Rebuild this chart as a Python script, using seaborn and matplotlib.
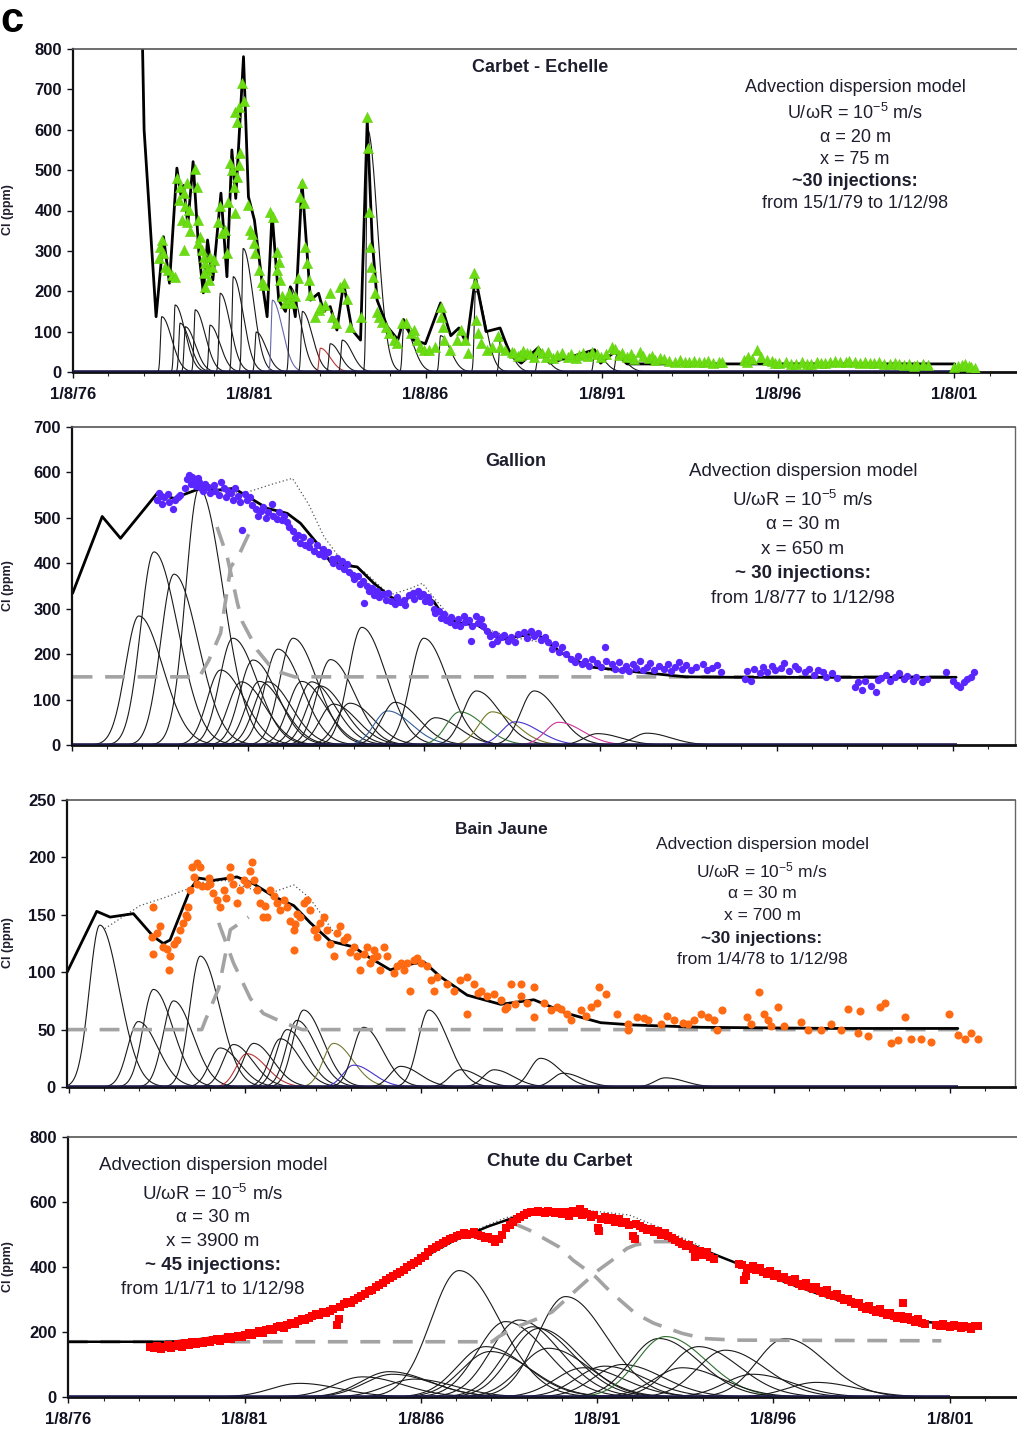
import numpy as np
import pandas as pd
import matplotlib
matplotlib.use("Agg")
import matplotlib.pyplot as plt
import seaborn as sns

sns.set_theme(style="white")
plt.rcParams["font.family"] = ["Liberation Sans", "DejaVu Sans"]
plt.rcParams["mathtext.default"] = "regular"

# ---------------------------------------------------------------- data
# dates are decimal years; 1/8/YY tick positions
tick_years = [1976.583, 1981.583, 1986.583, 1991.583, 1996.583, 2001.583]
tick_labels = ["1/8/76", "1/8/81", "1/8/86", "1/8/91", "1/8/96", "1/8/01"]
minor_years = [1976.583 + k for k in range(27)]

# ---- Carbet - Echelle
ce_model_t = [1978.55, 1978.60, 1978.94, 1979.15, 1979.32, 1979.53, 1979.64, 1979.72, 1979.84,
              1979.99, 1980.15, 1980.28, 1980.40, 1980.55, 1980.78, 1980.95, 1981.09, 1981.20,
              1981.42, 1981.56, 1981.73, 1981.94, 1982.09, 1982.23, 1982.42, 1982.61, 1982.75,
              1982.89, 1983.08, 1983.32, 1983.55, 1983.69, 1983.88, 1984.07, 1984.26, 1984.50,
              1984.74, 1984.93, 1985.07, 1985.21, 1985.50, 1985.80, 1985.96, 1986.24, 1986.58,
              1987.01, 1987.30, 1987.53, 1987.75, 1988.00, 1988.30, 1988.70, 1989.00, 1989.30,
              1989.78, 1990.10, 1991.38, 1991.55, 1991.95, 1992.30, 2001.60]
ce_model_c = [830, 600, 137, 335, 220, 505, 440, 462, 365,
              521, 300, 196, 327, 228, 443, 236, 550, 430,
              781, 434, 376, 228, 137, 393, 178, 150, 211,
              137, 471, 178, 195, 150, 162, 104, 220, 104,
              79, 624, 327, 178, 112, 80, 130, 79, 70,
              171, 90, 109, 70, 235, 100, 109, 40, 22,
              60, 22, 55, 22, 50, 20, 20]
ce_obs_t = [1979.10, 1979.05, 1979.15, 1979.01, 1979.20, 1979.29, 1979.39, 1979.48, 1979.53, 1979.62,
            1979.58, 1979.72, 1979.81, 1979.76, 1979.86, 1979.67, 1979.81, 1979.72, 1979.91, 1980.05,
            1980.10, 1980.14, 1980.19, 1980.14, 1980.24, 1980.29, 1980.33, 1980.38, 1980.29, 1980.47,
            1980.52, 1980.57, 1980.43, 1980.33, 1980.76, 1980.71, 1980.81, 1980.90, 1980.95, 1980.99,
            1981.09, 1981.14, 1981.23, 1981.18, 1981.04, 1981.23, 1981.18, 1981.28, 1981.37, 1981.42,
            1981.33, 1981.28, 1981.56, 1981.61, 1981.66, 1981.71, 1981.75, 1981.85, 1981.94, 1981.99,
            1982.18, 1982.27, 1982.37, 1982.42, 1982.37, 1982.46, 1982.51, 1982.61, 1982.70, 1982.80,
            1982.89, 1982.70, 1983.08, 1983.13, 1983.03, 1983.17, 1983.22, 1983.27, 1983.32, 1982.98,
            1983.46, 1983.55, 1983.60, 1983.74, 1983.88, 1983.93, 1984.03, 1984.17, 1984.26, 1984.36,
            1984.45, 1984.93, 1984.94, 1984.97, 1985.02, 1985.04, 1985.10, 1985.16, 1984.74, 1985.21,
            1985.26, 1985.35, 1985.45, 1985.54, 1985.68, 1985.78, 1985.92, 1986.02, 1986.16, 1986.25,
            1986.35, 1986.44, 1986.54, 1986.68, 1986.86, 1987.02, 1987.02, 1987.07, 1987.12, 1987.28,
            1987.49, 1987.59, 1987.69, 1987.80, 1987.96, 1987.99, 1988.01, 1988.06, 1988.16, 1988.32,
            1988.48, 1988.63, 1988.69, 1988.84, 1989.05, 1989.10, 1989.20, 1989.26, 1989.35, 1989.47,
            1989.55, 1989.65, 1989.78, 1989.90, 1989.99, 1990.05, 1990.20, 1990.31, 1990.45, 1990.62,
            1990.70, 1990.85, 1990.93, 1991.05, 1991.20, 1991.30, 1991.45, 1991.56, 1991.70, 1991.87,
            1991.95, 1992.08, 1992.15, 1992.29, 1992.40, 1992.50, 1992.66, 1992.75, 1992.92, 1993.00,
            1993.10, 1993.23, 1993.35, 1993.50, 1993.65, 1993.80, 1993.95, 1994.07, 1994.20, 1994.35,
            1994.48, 1994.60, 1994.75, 1994.90, 1995.00, 1995.63, 1995.70, 1995.74, 1995.85, 1996.00,
            1996.10, 1996.26, 1996.40, 1996.50, 1996.62, 1996.80, 1996.95, 1997.09, 1997.25, 1997.40,
            1997.51, 1997.70, 1997.80, 1997.93, 1998.05, 1998.20, 1998.35, 1998.50, 1998.60, 1998.77,
            1998.90, 1999.05, 1999.18, 1999.30, 1999.45, 1999.60, 1999.75, 1999.90, 2000.02, 2000.15,
            2000.30, 2000.45, 2000.54, 2000.70, 2000.85, 2001.59, 2001.70, 2001.79, 2001.90, 2002.00,
            2002.05, 2002.16]
ce_obs_c = [327, 310, 294, 282, 261, 253, 240, 236, 480, 459,
            426, 443, 467, 410, 401, 376, 372, 302, 348, 504,
            459, 376, 335, 319, 302, 286, 269, 253, 244, 286,
            261, 277, 228, 211, 410, 372, 344, 352, 294, 422,
            500, 459, 484, 393, 517, 620, 645, 657, 715, 670,
            542, 513, 414, 352, 343, 319, 294, 253, 224, 216,
            397, 385, 298, 273, 253, 228, 187, 170, 182, 170,
            187, 195, 467, 418, 434, 310, 269, 228, 191, 232,
            137, 154, 162, 166, 195, 137, 121, 211, 220, 182,
            112, 632, 554, 397, 310, 261, 236, 195, 137, 149,
            137, 125, 112, 96, 79, 71, 121, 121, 96, 104,
            79, 63, 55, 55, 63, 162, 137, 112, 79, 55,
            79, 104, 79, 46, 244, 220, 129, 96, 71, 55,
            63, 88, 63, 55, 50, 48, 40, 42, 52, 46,
            44, 36, 55, 47, 38, 50, 34, 42, 46, 38,
            44, 35, 42, 48, 40, 50, 45, 38, 44, 63,
            56, 42, 46, 38, 44, 32, 50, 40, 34, 40,
            30, 34, 32, 28, 26, 30, 24, 26, 28, 24,
            26, 28, 22, 26, 24, 30, 26, 38, 32, 55,
            36, 30, 27, 22, 23, 26, 20, 21, 24, 20,
            20, 25, 22, 23, 26, 28, 26, 24, 28, 25,
            22, 26, 23, 22, 24, 21, 20, 22, 20, 18,
            21, 16, 18, 19, 17, 13, 14, 17, 19, 15,
            12, 9]
ce_comp_t0 = [1979.10, 1979.48, 1979.62, 1979.77, 1980.05, 1980.47, 1980.76, 1981.13, 1981.41,
              1981.78, 1982.24, 1982.75, 1983.09, 1983.60, 1983.88, 1984.22, 1984.94, 1985.96,
              1987.01, 1988.00, 1988.71, 1989.78, 1991.38, 1992.00]
ce_comp_h = [137, 166, 121, 112, 154, 116, 195, 236, 306,
             99, 178, 211, 150, 59, 70, 79, 600, 110,
             90, 200, 85, 45, 45, 40]
ce_comp_col = ["k", "k", "k", "k", "k", "k", "k", "k", "k",
               "k", "#6666aa", "k", "k", "#bb3333", "k", "k", "k", "k",
               "k", "k", "k", "k", "k", "k"]

# ---- Gallion
ga_model_t = [1976.60, 1977.44, 1977.96, 1979.00, 1979.47, 1980.23, 1980.70, 1981.18, 1981.74,
              1982.12, 1982.69, 1983.07, 1983.54, 1983.92, 1984.30, 1984.68, 1985.15, 1985.63,
              1985.91, 1986.48, 1986.86, 1987.14, 1987.62, 1988.09, 1988.75, 1989.75, 1990.50,
              1991.26, 1992.59, 1994.01, 1995.43, 1998.27, 2001.68]
ga_model_c = [334, 503, 455, 554, 543, 565, 561, 565, 539,
              521, 510, 488, 444, 403, 396, 392, 356, 326,
              315, 337, 315, 282, 268, 264, 232, 246, 202,
              172, 161, 150, 149, 149, 149]
ga_dot_t = [1980.70, 1981.50, 1982.30, 1982.84, 1983.30, 1983.74, 1984.20, 1984.90, 1985.60,
            1986.20, 1986.53, 1986.90, 1987.40, 1988.10, 1989.00, 1990.00, 1991.00, 1992.00, 1992.50]
ga_dot_c = [560, 555, 575, 587, 530, 458, 410, 380, 330,
            345, 356, 320, 275, 262, 238, 225, 178, 162, 158]
ga_bg_rise_t = [1976.60, 1980.20, 1980.47, 1980.80, 1981.09, 1981.32, 1981.61, 1981.75]
ga_bg_rise_c = [150, 150, 187, 246, 392, 418, 466, 473]
ga_bg_fall_t = [1980.70, 1980.99, 1981.28, 1981.42, 1981.84, 1982.30, 1982.90, 2001.70]
ga_bg_fall_c = [480, 414, 312, 271, 209, 165, 150, 150]
ga_obs_t = [1979.00, 1979.05, 1979.10, 1979.15, 1979.20, 1979.30, 1979.35, 1979.45, 1979.50, 1979.60,
            1979.65, 1979.80, 1979.85, 1979.90, 1979.95, 1980.00, 1980.05, 1980.10, 1980.15, 1980.20,
            1980.25, 1980.30, 1980.35, 1980.45, 1980.50, 1980.60, 1980.65, 1980.75, 1980.80, 1980.90,
            1980.95, 1981.00, 1981.10, 1981.15, 1981.20, 1981.30, 1981.35, 1981.42, 1981.50, 1981.55,
            1981.65, 1981.70, 1981.80, 1981.85, 1981.95, 1982.00, 1982.10, 1982.15, 1982.25, 1982.30,
            1982.40, 1982.45, 1982.55, 1982.60, 1982.70, 1982.75, 1982.85, 1982.90, 1983.00, 1983.05,
            1983.15, 1983.20, 1983.30, 1983.35, 1983.45, 1983.55, 1983.60, 1983.70, 1983.75, 1983.85,
            1983.95, 1984.00, 1984.10, 1984.15, 1984.25, 1984.30, 1984.40, 1984.45, 1984.55, 1984.60,
            1984.70, 1984.75, 1984.85, 1984.87, 1984.95, 1985.00, 1985.10, 1985.15, 1985.25, 1985.30,
            1985.40, 1985.50, 1985.55, 1985.65, 1985.75, 1985.80, 1985.90, 1986.00, 1986.05, 1986.15,
            1986.25, 1986.30, 1986.40, 1986.45, 1986.55, 1986.60, 1986.70, 1986.75, 1986.85, 1986.90,
            1987.00, 1987.05, 1987.15, 1987.20, 1987.30, 1987.35, 1987.45, 1987.55, 1987.60, 1987.70,
            1987.75, 1987.90, 1987.85, 1987.95, 1988.05, 1988.10, 1988.20, 1988.25, 1988.35, 1988.45,
            1988.50, 1988.60, 1988.65, 1988.75, 1988.85, 1988.95, 1989.05, 1989.15, 1989.25, 1989.40,
            1989.50, 1989.60, 1989.70, 1989.80, 1989.90, 1990.00, 1990.10, 1990.20, 1990.30, 1990.40,
            1990.50, 1990.60, 1990.75, 1990.85, 1990.95, 1991.05, 1991.15, 1991.25, 1991.35, 1991.50,
            1991.60, 1991.70, 1991.75, 1991.90, 1992.00, 1992.10, 1992.20, 1992.30, 1992.40, 1992.50,
            1992.60, 1992.70, 1992.80, 1992.90, 1993.00, 1993.10, 1993.25, 1993.40, 1993.50, 1993.60,
            1993.70, 1993.80, 1993.90, 1994.00, 1994.15, 1994.30, 1994.50, 1994.60, 1994.75, 1994.90,
            1995.00, 1995.70, 1995.75, 1995.85, 1995.95, 1996.10, 1996.20, 1996.30, 1996.45, 1996.55,
            1996.70, 1996.80, 1996.95, 1997.10, 1997.20, 1997.40, 1997.50, 1997.65, 1997.75, 1997.90,
            1998.00, 1998.15, 1998.30, 1998.80, 1998.90, 1999.00, 1999.10, 1999.25, 1999.40, 1999.45,
            1999.55, 1999.70, 1999.80, 1999.95, 2000.05, 2000.20, 2000.30, 2000.45, 2000.55, 2000.70,
            2000.85, 2001.40, 2001.60, 2001.70, 2001.80, 2001.90, 2002.00, 2002.10, 2002.20]
ga_obs_c = [540, 555, 548, 530, 545, 552, 535, 520, 540, 545,
            550, 565, 585, 595, 575, 590, 580, 570, 588, 578,
            565, 560, 575, 568, 555, 572, 560, 550, 578, 565,
            545, 560, 555, 540, 565, 548, 535, 473, 552, 540,
            545, 528, 520, 505, 515, 525, 500, 512, 530, 505,
            498, 512, 495, 505, 490, 480, 470, 455, 462, 445,
            458, 440, 435, 448, 428, 440, 420, 432, 415, 425,
            410, 400, 412, 395, 405, 388, 398, 380, 375, 365,
            372, 355, 360, 313, 350, 340, 345, 330, 338, 325,
            332, 320, 335, 318, 310, 325, 315, 320, 308, 330,
            335, 322, 338, 328, 332, 318, 325, 315, 300, 290,
            296, 280, 288, 275, 270, 282, 265, 278, 262, 285,
            270, 228, 275, 262, 285, 268, 278, 262, 250, 240,
            222, 245, 230, 238, 242, 230, 238, 226, 244, 248,
            236, 252, 240, 246, 232, 238, 226, 212, 222, 205,
            215, 200, 190, 182, 195, 178, 186, 175, 190, 180,
            172, 216, 185, 178, 168, 182, 165, 175, 162, 178,
            170, 185, 165, 172, 180, 165, 175, 168, 178, 162,
            172, 182, 168, 176, 165, 172, 178, 165, 170, 176,
            160, 145, 162, 140, 168, 158, 172, 160, 175, 165,
            170, 180, 162, 175, 168, 160, 168, 155, 165, 160,
            150, 158, 148, 128, 138, 122, 140, 130, 117, 142,
            148, 155, 140, 150, 158, 145, 152, 140, 150, 138,
            145, 161, 140, 132, 128, 138, 145, 150, 160]
ga_comp_t0 = [1978.48, 1978.91, 1979.48, 1980.19, 1980.80, 1981.15, 1981.39, 1981.72, 1981.90,
              1982.13, 1982.43, 1982.86, 1983.10, 1983.38, 1983.62, 1983.92, 1984.00, 1984.47,
              1984.81, 1985.54, 1985.75, 1986.57, 1986.90, 1987.59, 1988.06, 1988.51, 1989.16,
              1989.70, 1990.40, 1991.50, 1992.90]
ga_comp_h = [284, 425, 376, 565, 165, 235, 139, 187, 140,
             139, 211, 235, 140, 139, 130, 188, 90, 92,
             259, 75, 94, 235, 60, 73, 119, 73, 51,
             119, 50, 25, 26]
ga_comp_col = ["k", "k", "k", "k", "k", "k", "k", "k", "k",
               "k", "k", "k", "k", "k", "k", "k", "k", "k",
               "k", "#335f99", "k", "k", "k", "#337733", "k", "#777722", "#4433cc",
               "k", "#cc3399", "k", "k"]

# ---- Bain Jaune
bj_model_t = [1976.53, 1977.37, 1977.75, 1978.41, 1978.98, 1979.26, 1979.45, 1980.02, 1980.26,
              1980.68, 1981.35, 1981.82, 1982.39, 1982.96, 1983.43, 1984.00, 1984.66, 1985.04,
              1985.70, 1986.08, 1986.65, 1987.12, 1987.88, 1988.83, 1989.77, 1990.72, 1991.67,
              1992.61, 1994.51, 1998.30, 2001.80]
bj_model_c = [100, 153, 148, 151, 131, 125, 128, 172, 182,
              180, 183, 177, 166, 158, 143, 127, 122, 114,
              102, 106, 109, 96, 80, 72, 76, 64, 56,
              54, 52, 51, 51]
bj_dot_t = [1977.60, 1978.00, 1978.60, 1979.30, 1979.90, 1980.30, 1981.00, 1981.80, 1982.40,
            1982.96, 1983.40, 1983.80, 1984.20]
bj_dot_c = [138, 146, 158, 165, 172, 178, 180, 172, 170,
            176, 165, 148, 130]
bj_bg_rise_t = [1976.53, 1980.35, 1980.45, 1980.83, 1981.16, 1981.68]
bj_bg_rise_c = [50, 50, 58, 86, 137, 148]
bj_bg_fall_t = [1980.83, 1981.25, 1981.73, 1982.10, 1982.67, 1983.20, 2001.80]
bj_bg_fall_c = [143, 108, 77, 64, 56, 50, 50]
bj_obs_t = [1978.98, 1978.93, 1979.07, 1979.17, 1978.98, 1979.26, 1979.41, 1979.45, 1979.55, 1979.64,
            1979.74, 1979.83, 1979.93, 1979.97, 1980.02, 1980.12, 1980.07, 1980.21, 1980.31, 1980.21,
            1980.35, 1980.49, 1980.59, 1980.68, 1980.78, 1980.87, 1980.97, 1981.16, 1981.16, 1981.25,
            1981.35, 1981.44, 1981.54, 1981.63, 1981.77, 1981.73, 1981.82, 1981.91, 1982.01, 1982.10,
            1982.20, 1982.29, 1982.39, 1982.48, 1982.58, 1982.67, 1982.77, 1982.86, 1982.96, 1982.96,
            1983.05, 1983.15, 1983.24, 1983.34, 1983.43, 1983.52, 1983.62, 1983.71, 1983.81, 1983.90,
            1984.00, 1984.09, 1984.19, 1984.28, 1984.38, 1984.47, 1984.66, 1984.76, 1984.85, 1984.94,
            1985.04, 1985.13, 1985.23, 1985.32, 1985.42, 1985.51, 1985.61, 1985.80, 1985.99, 1986.08,
            1986.18, 1986.27, 1986.37, 1986.56, 1986.74, 1986.84, 1986.93, 1987.03, 1987.50, 1987.69,
            1987.88, 1987.88, 1988.07, 1988.26, 1988.45, 1988.64, 1988.83, 1989.02, 1989.11, 1989.40,
            1989.40, 1989.77, 1989.58, 1989.77, 1990.06, 1990.25, 1990.44, 1990.72, 1990.82, 1991.10,
            1991.38, 1991.62, 1991.81, 1991.57, 1992.14, 1992.43, 1992.43, 1992.71, 1993.00, 1993.37,
            1993.75, 1994.13, 1994.32, 1994.51, 1994.70, 1994.89, 1994.98, 1995.12, 1995.83, 1995.93,
            1996.17, 1996.31, 1996.40, 1996.69, 1996.50, 1996.88, 1997.35, 1997.54, 1997.92, 1998.20,
            1998.49, 1998.68, 1999.01, 1998.96, 1999.24, 1999.58, 1999.72, 1999.90, 2000.10, 2000.29,
            2000.47, 2000.76, 2001.04, 2001.56, 2001.80, 2001.99, 2002.18, 2002.37,
            1979.35, 1979.90, 1980.55, 1981.05, 1982.15, 1983.00, 1983.60, 1984.55, 1985.20, 1985.90,
            1986.45, 1987.30, 1988.20, 1988.95, 1989.25, 1990.55, 1991.25, 1992.90, 1993.55, 1994.00]
bj_obs_c = [157, 131, 134, 140, 116, 122, 102, 114, 125, 128,
            137, 143, 148, 157, 172, 183, 192, 195, 192, 177,
            175, 175, 177, 169, 163, 157, 172, 183, 192, 177,
            160, 172, 180, 177, 196, 188, 180, 172, 160, 148,
            148, 172, 166, 160, 154, 163, 157, 145, 119, 137,
            151, 148, 160, 163, 154, 137, 131, 143, 148, 137,
            125, 114, 134, 140, 128, 131, 122, 114, 102, 116,
            122, 108, 119, 114, 102, 122, 114, 99, 108, 102,
            108, 84, 111, 108, 105, 93, 84, 96, 84, 93,
            64, 96, 90, 84, 79, 81, 76, 70, 90, 90,
            79, 87, 73, 61, 73, 67, 70, 64, 58, 67,
            70, 87, 81, 73, 64, 55, 50, 61, 58, 55,
            58, 55, 58, 64, 61, 58, 50, 67, 61, 55,
            83, 64, 58, 70, 53, 53, 57, 50, 50, 55,
            50, 68, 66, 47, 44, 70, 73, 38, 41, 61,
            42, 42, 39, 64, 45, 42, 47, 42,
            120, 150, 182, 165, 158, 142, 138, 118, 112, 105,
            112, 90, 82, 68, 72, 68, 62, 60, 62, 56]
bj_comp_t0 = [1977.46, 1978.55, 1978.98, 1979.55, 1980.31, 1980.87, 1981.25, 1981.63, 1981.82,
              1982.58, 1982.77, 1983.05, 1983.24, 1984.09, 1984.66, 1984.94, 1985.99, 1986.79,
              1987.69, 1988.64, 1989.96, 1990.60, 1993.50]
bj_comp_h = [141, 57, 85, 75, 114, 34, 37, 29, 38,
             42, 50, 58, 67, 38, 19, 52, 18, 67,
             15, 15, 25, 12, 8]
bj_comp_col = ["k", "k", "k", "k", "k", "k", "k", "#bb3333", "k",
               "k", "k", "k", "k", "#777733", "#4433cc", "k", "k", "k",
               "k", "k", "k", "k", "k"]

# ---- Chute du Carbet
cc_model_t = [1976.57, 1979.50, 1980.30, 1981.50, 1982.50, 1983.50, 1984.50, 1985.50, 1986.50,
              1987.50, 1988.50, 1989.30, 1990.00, 1991.00, 1992.00, 1993.00, 1994.00, 1995.00,
              1996.00, 1997.00, 1998.00, 1999.00, 2000.00, 2001.00, 2001.60]
cc_model_c = [170, 170, 178, 195, 218, 250, 290, 345, 420,
              480, 525, 555, 567, 567, 548, 518, 480, 435,
              392, 350, 312, 280, 252, 230, 225]
cc_dot_t = [1986.00, 1987.50, 1989.00, 1990.50, 1991.50, 1992.50, 1993.50, 1994.50]
cc_dot_c = [385, 485, 552, 575, 572, 560, 515, 465]
cc_bg_rise_t = [1976.57, 1988.60, 1988.80, 1989.20, 1990.03, 1990.31, 1991.00, 1991.63, 1992.01,
                1992.43, 1992.67, 1993.20, 1994.00]
cc_bg_rise_c = [170, 170, 186, 211, 247, 262, 330, 391, 421,
                457, 468, 478, 478]
cc_bg_fall_t = [1989.20, 1989.65, 1990.50, 1990.90, 1991.54, 1991.96, 1992.67, 1993.19, 1993.99,
                1994.60, 1995.50, 2001.35]
cc_bg_fall_c = [535, 514, 462, 421, 370, 324, 257, 227, 196,
                180, 175, 173]
cc_obs_t = [1978.9, 1979.0, 1979.1, 1979.2, 1979.3, 1979.4, 1979.5, 1979.6, 1979.7, 1979.8,
            1979.9, 1980.0, 1980.1, 1980.2, 1980.3, 1980.4, 1980.5, 1980.6, 1980.7, 1980.8,
            1980.9, 1981.0, 1981.1, 1981.2, 1981.3, 1981.4, 1981.5, 1981.6, 1981.7, 1981.8,
            1981.9, 1982.0, 1982.1, 1982.2, 1982.3, 1982.4, 1982.5, 1982.6, 1982.7, 1982.8,
            1982.9, 1983.0, 1983.1, 1983.2, 1983.3, 1983.4, 1983.5, 1983.6, 1983.7, 1983.8,
            1983.9, 1984.0, 1984.2, 1984.1, 1984.25, 1984.3, 1984.4, 1984.5, 1984.6, 1984.7,
            1984.8, 1984.9, 1985.0, 1985.1, 1985.2, 1985.3, 1985.4, 1985.5, 1985.6, 1985.7,
            1985.8, 1985.9, 1986.0, 1986.1, 1986.2, 1986.3, 1986.4, 1986.5, 1986.6, 1986.7,
            1986.8, 1986.9, 1987.0, 1987.1, 1987.2, 1987.3, 1987.4, 1987.5, 1987.6, 1987.7,
            1987.8, 1987.9, 1988.0, 1988.1, 1988.2, 1988.3, 1988.4, 1988.5, 1988.6, 1988.7,
            1988.8, 1988.9, 1989.0, 1989.1, 1989.2, 1989.3, 1989.4, 1989.5, 1989.6, 1989.7,
            1989.8, 1989.9, 1990.0, 1990.1, 1990.2, 1990.3, 1990.4, 1990.5, 1990.6, 1990.7,
            1990.8, 1990.9, 1991.0, 1991.1, 1991.15, 1991.2, 1991.3, 1991.4, 1991.5, 1991.6,
            1991.65, 1991.7, 1991.8, 1991.9, 1992.0, 1992.1, 1992.2, 1992.3, 1992.4, 1992.5,
            1992.6, 1992.65, 1992.7, 1992.8, 1992.9, 1993.0, 1993.1, 1993.2, 1993.3, 1993.4,
            1993.5, 1993.6, 1993.7, 1993.8, 1993.9, 1994.0, 1994.1, 1994.2, 1994.3, 1994.35,
            1994.4, 1994.5, 1994.6, 1994.7, 1994.8, 1994.9, 1995.6, 1995.7, 1995.75, 1995.8,
            1995.85, 1995.9, 1996.0, 1996.1, 1996.2, 1996.3, 1996.4, 1996.5, 1996.6, 1996.7,
            1996.8, 1996.9, 1997.0, 1997.1, 1997.2, 1997.3, 1997.4, 1997.5, 1997.6, 1997.7,
            1997.8, 1997.9, 1998.0, 1998.1, 1998.2, 1998.3, 1998.4, 1998.5, 1998.6, 1998.7,
            1998.8, 1998.9, 1999.0, 1999.1, 1999.2, 1999.3, 1999.4, 1999.5, 1999.6, 1999.7,
            1999.8, 1999.9, 2000.0, 2000.1, 2000.2, 2000.25, 2000.3, 2000.4, 2000.5, 2000.6,
            2000.7, 2000.8, 2000.9, 2001.2, 2001.3, 2001.4, 2001.5, 2001.6, 2001.7, 2001.8,
            2001.9, 2002.0, 2002.1, 2002.2, 2002.3, 2002.4]
cc_obs_c = [155, 150, 158, 148, 155, 160, 152, 158, 162, 155,
            165, 160, 168, 163, 170, 165, 172, 168, 175, 178,
            172, 180, 184, 178, 186, 188, 184, 192, 196, 190,
            198, 202, 198, 206, 210, 205, 214, 218, 212, 222,
            228, 224, 235, 240, 236, 244, 248, 255, 252, 262,
            258, 265, 222, 272, 240, 278, 285, 292, 288, 298,
            305, 312, 318, 325, 330, 338, 345, 352, 360, 365,
            372, 378, 385, 392, 400, 406, 412, 420, 428, 435,
            445, 455, 462, 468, 475, 480, 485, 490, 495, 500,
            505, 498, 502, 508, 500, 495, 488, 492, 485, 478,
            485, 500, 520, 530, 540, 548, 555, 560, 565, 570,
            568, 572, 570, 566, 572, 568, 565, 570, 562, 568,
            558, 572, 565, 580, 560, 568, 562, 555, 560, 520,
            510, 548, 555, 545, 552, 540, 548, 535, 540, 530,
            495, 485, 532, 525, 520, 515, 518, 508, 512, 500,
            505, 495, 490, 482, 478, 472, 465, 468, 455, 430,
            440, 450, 438, 445, 432, 425, 410, 405, 360, 372,
            398, 395, 402, 392, 398, 385, 380, 388, 372, 378,
            365, 370, 360, 355, 362, 348, 342, 350, 338, 332,
            340, 325, 320, 328, 315, 310, 318, 305, 298, 302,
            292, 285, 290, 278, 272, 280, 268, 262, 270, 258,
            252, 260, 248, 244, 250, 290, 240, 245, 236, 232,
            240, 228, 225, 222, 218, 224, 220, 214, 222, 218,
            212, 220, 216, 210, 218, 220]
cc_comp_t0 = [1983.14, 1984.93, 1985.69, 1985.78, 1986.40, 1987.67, 1988.42, 1988.55, 1988.99,
              1989.37, 1989.75, 1989.93, 1990.20, 1990.69, 1991.20, 1991.80, 1992.30, 1993.33,
              1993.52, 1994.00, 1994.46, 1995.22, 1996.00, 1996.92, 1997.80]
cc_comp_h = [42, 62, 78, 70, 55, 389, 155, 140, 232,
             237, 216, 211, 150, 309, 90, 95, 100, 180,
             186, 90, 155, 144, 70, 180, 45]
cc_comp_col = ["k", "k", "k", "k", "k", "k", "k", "k", "k",
               "k", "k", "k", "k", "k", "k", "k", "k", "k",
               "#2f6f2f", "k", "k", "k", "k", "k", "k"]

# ---- panel annotations
panel_titles = ["Carbet - Echelle", "Gallion", "Bain Jaune", "Chute du Carbet"]
model_notes = [
    ["Advection dispersion model", "U/\u03c9R = 10$^{-5}$ m/s", "\u03b1 = 20 m", "x = 75 m",
     "~30 injections:", "from 15/1/79 to 1/12/98"],
    ["Advection dispersion model", "U/\u03c9R = 10$^{-5}$ m/s", "\u03b1 = 30 m", "x = 650 m",
     "~ 30 injections:", "from 1/8/77 to 1/12/98"],
    ["Advection dispersion model", "U/\u03c9R = 10$^{-5}$ m/s", "\u03b1 = 30 m", "x = 700 m",
     "~30 injections:", "from 1/4/78 to 1/12/98"],
    ["Advection dispersion model", "U/\u03c9R = 10$^{-5}$ m/s", "\u03b1 = 30 m", "x = 3900 m",
     "~ 45 injections:", "from 1/1/71 to 1/12/98"],
]

# ---------------------------------------------------------------- layout
W, H = 1017, 1440
PX_PER_YEAR = 35.25
fig = plt.figure(figsize=(W / 100, H / 100), dpi=100)


def add_panel(l, t, r, b, x0):
    ax = fig.add_axes([l / W, 1 - b / H, (r - l) / W, (b - t) / H])
    ax.set_xlim(x0, x0 + (r - l) / PX_PER_YEAR)
    return ax


def ftext(x, y, s, **kw):
    fig.text(x / W, 1 - y / H, s, **kw)


def pulse(t, t0, h, s_left, s_right):
    s = np.where(t < t0, s_left, s_right)
    return h * np.exp(-0.5 * ((t - t0) / s) ** 2)


def draw_components(ax, t0s, hs, cols, s_left, s_right, t_end):
    for t0, h, c in zip(t0s, hs, cols):
        tt = np.linspace(t0 - 5 * s_left, min(t0 + 5 * s_right, t_end), 300)
        frame = pd.DataFrame({"t": tt, "c": pulse(tt, t0, h, s_left, s_right)})
        sns.lineplot(data=frame, x="t", y="c", ax=ax, color=c, lw=0.8,
                     sort=False, estimator=None)
    ax.plot([ax.get_xlim()[0], t_end], [0, 0], color="#1c1a4a", lw=2.6,
            solid_capstyle="butt", zorder=3)


def draw_line(ax, t, c, **kw):
    sns.lineplot(x=t, y=c, ax=ax, sort=False, estimator=None, **kw)


def style_axis(ax, ymax, ystep, show_xlabels, right_spine):
    ax.set_ylim(0, ymax)
    ax.set_yticks(np.arange(0, ymax + 1, ystep))
    ax.set_xticks(tick_years)
    ax.set_xticks(minor_years, minor=True)
    if show_xlabels:
        ax.set_xticklabels(tick_labels)
    else:
        ax.set_xticklabels([])
    ax.set_xlabel("")
    ax.set_ylabel("")
    ax.tick_params(axis="x", which="major", direction="out", length=4, width=1,
                   pad=7, labelsize=12, colors="#111122", bottom=True)
    ax.tick_params(axis="x", which="minor", direction="out", length=3, width=0.8,
                   bottom=True)
    ax.tick_params(axis="y", direction="out", length=4, width=1, pad=4,
                   labelsize=12, colors="#111122", left=True)
    for lab in ax.get_xticklabels() + ax.get_yticklabels():
        lab.set_fontweight("bold")
    ax.spines["left"].set_color("#111111")
    ax.spines["left"].set_linewidth(1.6)
    ax.spines["bottom"].set_color("#111111")
    ax.spines["bottom"].set_linewidth(2.0)
    ax.spines["top"].set_color("#555555")
    ax.spines["top"].set_linewidth(1.2)
    ax.spines["right"].set_visible(right_spine)
    ax.spines["right"].set_color("#666666")
    ax.spines["right"].set_linewidth(1.0)
    ax.set_facecolor("white")


GRAY_DASH = dict(color="#a3a3a3", lw=2.6, dashes=(5.5, 3.5))
GRAY_DOT = dict(color="#555555", lw=0.9, linestyle=(0, (1, 2)))

# ---- panel 1: Carbet - Echelle
ax1 = add_panel(73, 49, 1017, 372, 1976.583)
draw_components(ax1, ce_comp_t0, ce_comp_h, ce_comp_col, 0.035, 0.28, 2001.6)
draw_line(ax1, ce_model_t, ce_model_c, color="black", lw=2.0)
sns.scatterplot(x=ce_obs_t, y=ce_obs_c, ax=ax1, marker="^", s=55, color="#6bdc12",
                edgecolor="#5ccc08", linewidth=0.3, zorder=4)
style_axis(ax1, 800, 100, True, False)

# ---- panel 2: Gallion
ax2 = add_panel(72, 427, 1015, 745, 1976.60)
draw_components(ax2, ga_comp_t0, ga_comp_h, ga_comp_col, 0.38, 0.68, 2001.7)
draw_line(ax2, ga_bg_rise_t, ga_bg_rise_c, **GRAY_DASH)
draw_line(ax2, ga_bg_fall_t, ga_bg_fall_c, **GRAY_DASH)
draw_line(ax2, ga_dot_t, ga_dot_c, **GRAY_DOT)
draw_line(ax2, ga_model_t, ga_model_c, color="black", lw=2.0)
sns.scatterplot(x=ga_obs_t, y=ga_obs_c, ax=ax2, marker="o", s=28, color="#5a26ff",
                edgecolor="#5a26ff", linewidth=0, zorder=4)
style_axis(ax2, 700, 100, False, True)

# ---- panel 3: Bain Jaune
ax3 = add_panel(67, 800, 1015, 1087, 1976.527)
draw_components(ax3, bj_comp_t0, bj_comp_h, bj_comp_col, 0.3, 0.55, 2001.8)
draw_line(ax3, bj_bg_rise_t, bj_bg_rise_c, **GRAY_DASH)
draw_line(ax3, bj_bg_fall_t, bj_bg_fall_c, **GRAY_DASH)
draw_line(ax3, bj_dot_t, bj_dot_c, **GRAY_DOT)
draw_line(ax3, bj_model_t, bj_model_c, color="black", lw=2.0)
sns.scatterplot(x=bj_obs_t, y=bj_obs_c, ax=ax3, marker="o", s=34, color="#ff6a12",
                edgecolor="#ff6a12", linewidth=0, zorder=4)
style_axis(ax3, 250, 50, False, True)

# ---- panel 4: Chute du Carbet
ax4 = add_panel(68, 1137, 1017, 1397, 1976.574)
draw_components(ax4, cc_comp_t0, cc_comp_h, cc_comp_col, 0.8, 1.15, 2001.6)
draw_line(ax4, cc_bg_rise_t, cc_bg_rise_c, **GRAY_DASH)
draw_line(ax4, cc_bg_fall_t, cc_bg_fall_c, **GRAY_DASH)
draw_line(ax4, cc_dot_t, cc_dot_c, **GRAY_DOT)
draw_line(ax4, cc_model_t, cc_model_c, color="black", lw=1.8)
sns.scatterplot(x=cc_obs_t, y=cc_obs_c, ax=ax4, marker="s", s=40, color="#ff0000",
                edgecolor="#ff0000", linewidth=0, zorder=4)
style_axis(ax4, 800, 200, True, False)

for ax in (ax1, ax2, ax3, ax4):
    leg = ax.get_legend()
    if leg is not None:
        leg.remove()

# ---- text
TXT = "#1e1e2e"
ftext(0, 1, "c", fontsize=30, fontweight="bold", ha="left", va="top", color="black")

title_pos = [(540, 68, 13), (516, 462, 13), (501, 830, 12.5), (560, 1162, 13.5)]
for (x, y, fs), s in zip(title_pos, panel_titles):
    ftext(x, y, s, fontsize=fs, fontweight="bold", ha="center", va="center", color=TXT)

note_pos = [(855, [88, 113, 137, 159, 181, 203], 13),
            (803, [472, 500, 525, 549, 573, 598], 13.5),
            (762, [845, 870, 893, 915, 938, 960], 12.5),
            (213, [1166, 1194, 1218, 1242, 1266, 1289], 13.5)]
for (cx, ys, fs), lines in zip(note_pos, model_notes):
    for i, (y, s) in enumerate(zip(ys, lines)):
        ftext(cx, y, s, fontsize=fs, ha="center", va="center", color=TXT,
              fontweight="bold" if i == 4 else "normal")

for y in (210, 586, 943, 1267):
    ftext(8, y, "Cl (ppm)", fontsize=9, fontweight="bold", rotation=90,
          ha="center", va="center", color=TXT)

fig.savefig("out.png", dpi=100, facecolor="white")
